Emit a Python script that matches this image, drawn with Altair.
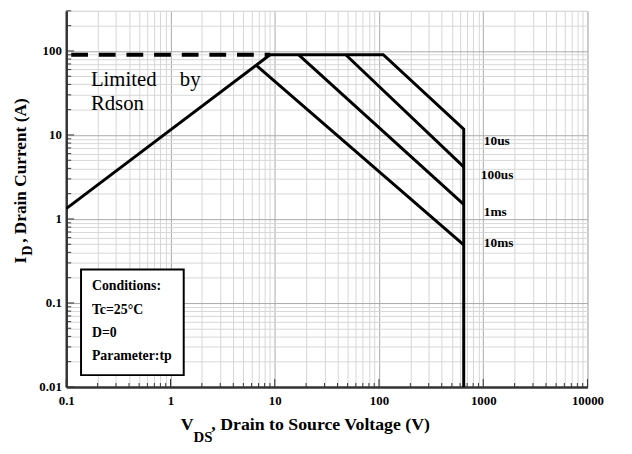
import altair as alt
import pandas as pd

# ---------------- data ----------------
# Rdson limit line
rdson_v = [0.1, 9.0]
rdson_i = [1.33, 90.0]
# dashed current limit
limit_v = [0.1, 9.0]
limit_i = [90.0, 90.0]
# 10us envelope (flat, slope, vertical BVdss)
us10_v = [9.0, 110.0, 650.0, 650.0]
us10_i = [90.0, 90.0, 11.7, 0.01]
# 100us
us100_v = [48.0, 650.0]
us100_i = [90.0, 4.17]
# 1ms
ms1_v = [17.0, 650.0]
ms1_i = [90.0, 1.49]
# 10ms (branches off the Rdson line)
ms10_v = [6.7, 650.0]
ms10_i = [67.0, 0.49]

series = {
    "Rdson": (rdson_v, rdson_i),
    "10us": (us10_v, us10_i),
    "100us": (us100_v, us100_i),
    "1ms": (ms1_v, ms1_i),
    "10ms": (ms10_v, ms10_i),
}

curve_labels = ["10us", "100us", "1ms", "10ms"]
cond_lines = ["Conditions:", "Tc=25\u00b0C", "D=0", "Parameter:tp"]

x_decades = [-1, 0, 1, 2, 3]
y_decades = [-2, -1, 0, 1]

# ---------------- tables ----------------
rows = []
for name, (vs, is_) in series.items():
    for k, (v, i) in enumerate(zip(vs, is_)):
        rows.append({"series": name, "v": v, "i": i, "order": k})
lines_df = pd.DataFrame(rows)
dash_df = pd.DataFrame({"v": limit_v, "i": limit_i})

x_vals = [round(m * 10.0 ** d, 6) for d in x_decades for m in range(1, 10)] + [10000.0]
y_vals = [round(m * 10.0 ** d, 6) for d in y_decades for m in range(1, 10)] + [100.0, 200.0, 300.0]

def is_pow10(v):
    import math
    return abs(math.log10(v) - round(math.log10(v))) < 1e-9

x_major = pd.DataFrame({"v": [v for v in x_vals if is_pow10(v)]})
x_minor = pd.DataFrame({"v": [v for v in x_vals if not is_pow10(v)]})
y_major = pd.DataFrame({"i": [v for v in y_vals if is_pow10(v)]})
y_minor = pd.DataFrame({"i": [v for v in y_vals if not is_pow10(v)]})

# ---------------- encodings ----------------
SERIF = "Liberation Serif"
W, H = 528, 381
pow_test = "abs(log(datum.value)/LN10 - round(log(datum.value)/LN10)) < 1e-6"
grid_color = {"condition": {"test": pow_test, "value": "#a9a9a9"}, "value": "#d6d6d6"}

x_axis = alt.Axis(values=x_vals, format="~g", labelExpr=f"{pow_test} ? datum.label : ''",
                  grid=True, gridColor=grid_color, gridWidth=1, ticks=False,
                  domain=True, domainColor="#333", domainWidth=2.5, title=None,
                  labelFont=SERIF, labelFontWeight="bold", labelFontSize=13,
                  labelColor="black", labelPadding=8, labelOverlap=False, labelFlush=False)
y_axis = alt.Axis(values=y_vals, format="~g", labelExpr=f"{pow_test} ? datum.label : ''",
                  grid=True, gridColor=grid_color, gridWidth=1, ticks=False,
                  domain=True, domainColor="#333", domainWidth=2.5, title=None,
                  labelFont=SERIF, labelFontWeight="bold", labelFontSize=13,
                  labelColor="black", labelPadding=5, labelOverlap=False, labelFlush=False)

X = alt.X("v:Q", scale=alt.Scale(type="log", domain=[0.1, 10000], nice=False), axis=x_axis)
Y = alt.Y("i:Q", scale=alt.Scale(type="log", domain=[0.01, 300], nice=False), axis=y_axis)

# ---------------- layers ----------------
xt_minor = alt.Chart(x_minor).mark_rule(color="#333", strokeWidth=1).encode(
    x=X, y=alt.value(H), y2=alt.value(H - 4))
xt_major = alt.Chart(x_major).mark_rule(color="#333", strokeWidth=1).encode(
    x=X, y=alt.value(H), y2=alt.value(H - 8))
yt_minor = alt.Chart(y_minor).mark_rule(color="#333", strokeWidth=1).encode(
    y=Y, x=alt.value(0), x2=alt.value(5))
yt_major = alt.Chart(y_major).mark_rule(color="#333", strokeWidth=1).encode(
    y=Y, x=alt.value(0), x2=alt.value(8))

curves = alt.Chart(lines_df).mark_line(color="black", strokeWidth=3, clip=True).encode(
    x=X, y=Y, detail="series:N", order="order:Q")
dashed = alt.Chart(dash_df).mark_line(color="black", strokeWidth=4, strokeDash=[17, 11],
                                      strokeDashOffset=-5, clip=True).encode(x=X, y=Y)

blank = alt.Data(values=[{}])

def txt(s, x, y, size, weight="bold", angle=0, align="left", baseline="alphabetic"):
    return alt.Chart(blank).mark_text(text=s, font=SERIF, fontSize=size, fontWeight=weight,
                                      angle=angle, align=align, baseline=baseline,
                                      color="black").encode(x=alt.value(x), y=alt.value(y))

box = alt.Chart(blank).mark_rect(fill="white", stroke="black", strokeWidth=2).encode(
    x=alt.value(15), x2=alt.value(119), y=alt.value(262), y2=alt.value(369))

texts = [
    txt("Limited", 25, 76, 21, weight="normal"),
    txt("by", 115, 76, 21, weight="normal"),
    txt("Rdson", 25, 100, 21, weight="normal"),
]
label_pos = [(423, 136), (420, 170), (423, 208), (423, 239)]
for s, (px, py) in zip(curve_labels, label_pos):
    texts.append(txt(s, px, py, 13.5))
cond_pos = [283, 307, 330, 354]
for s, py in zip(cond_lines, cond_pos):
    texts.append(txt(s, 26, py, 14))

# axis titles with subscripts
texts += [
    txt("V", 116, 425, 18),
    txt("DS", 129, 437, 15),
    txt(", Drain to Source Voltage (V)", 147, 425, 18),
    txt("I", -41, 256, 17.5, angle=270),
    txt("D", -35, 248, 14.5, angle=270),
    txt(", Drain Current (A)", -41, 235, 17.5, angle=270),
]

chart = alt.layer(xt_minor, xt_major, yt_minor, yt_major, dashed, curves, box, *texts).properties(
    width=W, height=H,
    autosize=alt.AutoSizeParams(type="none"),
    padding={"left": 59, "top": 0, "right": 37, "bottom": 65},
).configure_view(stroke="#444", strokeWidth=1.5).configure(background="white")

chart.save("out.html", embed_options={"renderer": "svg", "actions": False})
